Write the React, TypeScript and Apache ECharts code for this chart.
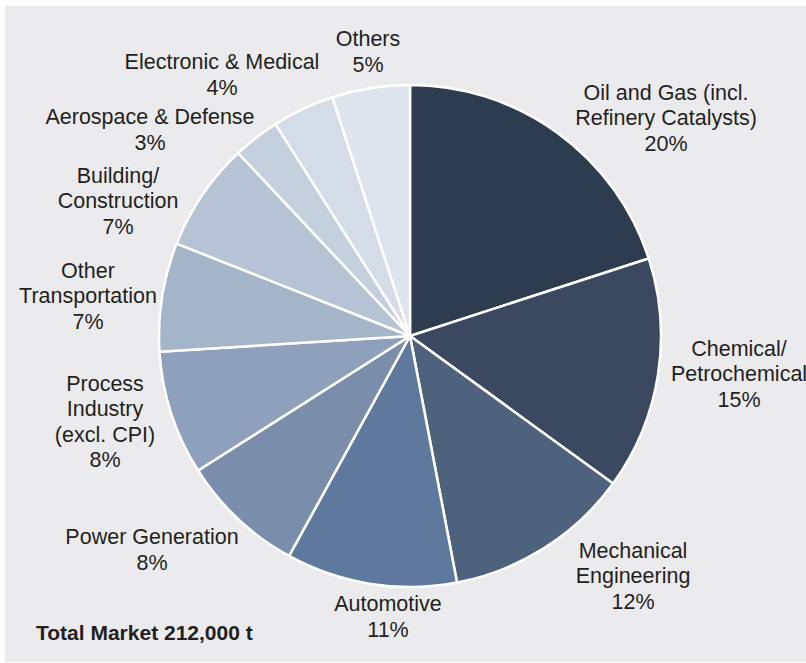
import React, { useEffect, useRef } from "react";
import * as echarts from "echarts";

const categories = [
  "Oil and Gas (incl.\nRefinery Catalysts)",
  "Chemical/\nPetrochemical",
  "Mechanical\nEngineering",
  "Automotive",
  "Power Generation",
  "Process\nIndustry\n(excl. CPI)",
  "Other\nTransportation",
  "Building/\nConstruction",
  "Aerospace & Defense",
  "Electronic & Medical",
  "Others",
];
const shares = [20, 15, 12, 11, 8, 8, 7, 7, 3, 4, 5];
const totalLabel = "Total Market 212,000 t";

const sliceColors = [
  "#2e3c50",
  "#3a4960",
  "#4e617d",
  "#5f799e",
  "#7a8dab",
  "#8ea0bb",
  "#a4b4c9",
  "#b5c3d4",
  "#c5d0de",
  "#d3dce7",
  "#dde4ee",
];

// label block centres (layout only)
const labelCenters: [number, number][] = [
  [666, 118],
  [739, 374],
  [633, 576],
  [388, 617],
  [152, 550],
  [105, 422],
  [88, 296],
  [118, 201],
  [150, 130],
  [222, 75],
  [368, 52],
];

const FONT = "'Liberation Sans', Arial, Helvetica, sans-serif";

export default function App() {
  const ref = useRef<HTMLDivElement>(null);
  useEffect(() => {
    if (!ref.current) return;
    const chart = echarts.init(ref.current, undefined, { renderer: "svg" });
    chart.setOption({
      animation: false,
      backgroundColor: "#ffffff",
      textStyle: { fontFamily: FONT },
      graphic: [
        {
          type: "rect",
          z: -10,
          shape: { x: 5, y: 6, width: 801, height: 656 },
          style: { fill: "#ebebed" },
          silent: true,
        },
        {
          type: "text",
          left: 36,
          top: 622,
          style: {
            text: totalLabel,
            fontFamily: FONT,
            fontSize: 21,
            fontWeight: "bold",
            fill: "#231f20",
          },
        },
      ],
      series: [
        {
          type: "pie",
          center: [410, 336],
          radius: 251,
          startAngle: 90,
          clockwise: true,
          avoidLabelOverlap: false,
          itemStyle: { borderColor: "#ffffff", borderWidth: 2.5 },
          label: {
            show: true,
            position: "outside",
            formatter: "{b}\n{c}%",
            fontFamily: FONT,
            fontSize: 21.5,
            lineHeight: 25.5,
            color: "#231f20",
            align: "center",
          },
          labelLine: { show: false },
          labelLayout: (params: any) => {
            const p = labelCenters[params.dataIndex];
            return {
              x: p[0],
              y: p[1],
              align: "center",
              verticalAlign: "middle",
            };
          },
          emphasis: { disabled: true },
          data: categories.map((name, i) => ({
            name,
            value: shares[i],
            itemStyle: { color: sliceColors[i] },
          })),
        },
      ],
    });
    return () => chart.dispose();
  }, []);
  return (
    <div
      ref={ref}
      style={{ position: "fixed", left: 0, top: 0, width: 806, height: 663 }}
    />
  );
}
